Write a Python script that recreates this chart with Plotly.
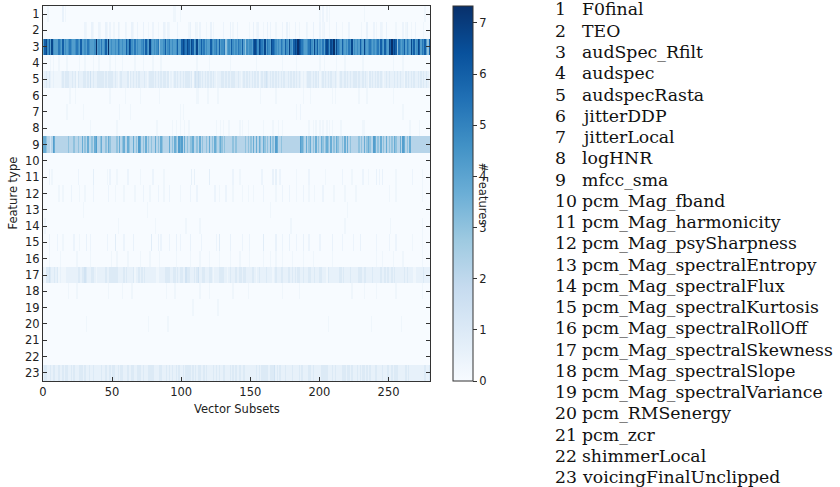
import plotly.graph_objects as go

# ---------------- data ----------------
N_COLS = 280
FEATURES = ["F0final", "TEO", "audSpec_Rfilt", "audspec", "audspecRasta", "jitterDDP",
            "jitterLocal", "logHNR", "mfcc_sma", "pcm_Mag_fband", "pcm_Mag_harmonicity",
            "pcm_Mag_psySharpness", "pcm_Mag_spectralEntropy", "pcm_Mag_spectralFlux",
            "pcm_Mag_spectralKurtosis", "pcm_Mag_spectralRollOff", "pcm_Mag_spectralSkewness",
            "pcm_Mag_spectralSlope", "pcm_Mag_spectralVariance", "pcm_RMSenergy", "pcm_zcr",
            "shimmerLocal", "voicingFinalUnclipped"]
X_TICKS = [0, 50, 100, 150, 200, 250]
CB_TICKS = [0, 1, 2, 3, 4, 5, 6, 7]
Z_MAX = 7.33

# codebook for dense rows (one character per vector subset)
LEVELS = {'0': 0.0, '1': 0.3, '2': 0.6, '3': 1.0, '4': 1.4, '5': 2.2, '6': 3.0,
          '7': 3.7, '8': 4.2, '9': 4.7, 'a': 5.3, 'b': 6.0, 'c': 6.7, 'd': 7.33}

ROW3 = "".join([
    "8bc9b8c988", "8a98b8989a", "9889a98b88", "98a98889d8", "98a89b8d89",
    "8898a98988", "b9cb98a898", "89a8b98c98", "989a6889b8", "9a89889b88",
    "bcbacb9cb8", "9c89b9a898", "8b989a8b89", "9a6898b989", "8a98b86989",
    "98bcb9cba9", "c8a98cba98", "98a98b98c9", "8bcbdcba98", "89ab98c9b8",
    "98a8bcb9cb", "d9ca98b989", "8a9c89898b", "98c989a989", "89a8b98b98",
    "cbdbcb6a98", "9b8a98c9b8", "9cb8a9b86b"])
ROW5 = "".join([
    "1232321211", "1112323332", "2323132223", "3232423223", "3333232333",
    "3232123222", "2313232323", "2223212333", "2323232332", "3121232323",
    "2323332313", "4343232323", "2323212223", "3232323332", "2321232323",
    "2323231232", "3432323232", "3232322323", "2323232121", "2333232323",
    "1232323232", "2321232232", "3232333232", "2323213232", "3232321232",
    "3222323232", "2132323232", "2323232321"])
ROW9 = "".join([
    "7765545875", "5555555565", "5565565575", "6575565785", "5675565765",
    "5556575675", "5765575658", "7565756565", "5756576555", "5756576587",
    "8575656675", "5657565565", "7565765676", "5655555656", "5555556565",
    "6575757657", "6565756587", "5565555555", "5555558765", "7567565756",
    "5765676575", "6576556575", "7565555565", "6575676558", "7565756575",
    "6565765575", "8756575555", "5555555555"])
ROW17 = "".join([
    "2133432232", "3121111222", "2222233233", "4322233212", "2222232233",
    "3333222232", "3222231223", "2323222222", "2211222233", "3322332323",
    "3224332223", "2342233222", "3321222333", "3221232223", "2233233222",
    "2332123222", "2322221232", "2233222332", "3232332232", "2233223222",
    "3322213222", "2222332322", "2232222233", "3233222232", "2222322323",
    "2232322222", "2323222211", "2222232222"])
ROW23 = "".join([
    "2332232332", "2322323322", "3232223332", "3223223222", "2232232232",
    "3322323322", "2322332233", "3232223333", "2222332223", "2323223232",
    "2323333232", "3233223232", "2223232322", "3322232323", "2232232222",
    "2222323233", "3332333423", "2322232222", "3222232322", "2233232222",
    "2333332223", "2322223332", "3323222323", "2332323222", "3322232223",
    "2232333222", "2232322222", "2222223223"])
DENSE = {3: ROW3, 5: ROW5, 9: ROW9, 17: ROW17, 23: ROW23}

# sparse rows: (vector subset, #features)
SPARSE = {
    1: [(3, .3), (14, .5), (16, .3), (94, .3), (95, .3), (99, .3), (200, .3), (202, .4),
        (205, .3), (207, .3), (232, .3), (276, .3)],
    2: [(30, .4), (31, .3), (35, .5), (36, .3), (40, .4), (41, .3), (45, .5), (46, .3),
        (48, .4), (51, .3), (54, .5), (55, .3), (59, .4), (60, .3), (64, .5), (65, .3),
        (68, .4), (72, .5), (76, .3), (79, .4), (83, .3), (87, .5), (88, .3), (90, .4),
        (91, .3), (97, .4), (105, .3), (106, .5), (110, .4), (111, .3), (113, .4),
        (118, .3), (121, .5), (123, .3), (130, .4), (135, .5), (137, .3), (140, .4),
        (149, .3), (152, .5), (154, .3), (155, .4), (159, .3), (162, .5), (164, .4),
        (168, .3), (173, .4), (176, .5), (178, .3), (182, .4), (185, .3), (190, .4),
        (191, .3), (195, .5), (200, .4), (202, .3), (203, .4), (207, .3), (212, .5),
        (216, .3), (221, .4), (230, .3), (234, .5), (239, .4), (241, .3), (244, .4),
        (245, .3), (248, .5), (255, .3), (260, .4), (262, .3), (263, .5), (266, .3),
        (269, .4), (275, .3)],
    4: [(5, .3), (7, .3), (11, .3), (17, .3), (26, .3), (30, .3), (36, .3), (40, .3),
        (48, .3), (52, .3), (57, .3), (66, .3), (72, .3), (79, .3), (85, .3), (111, .3),
        (120, .3), (135, .3), (154, .3), (173, .3), (183, .3), (200, .3), (203, .3),
        (212, .3), (218, .3), (231, .3), (253, .3), (260, .3)],
    6: [(19, .3), (23, .3), (48, .3), (59, .3), (70, .3), (84, .3), (111, .3), (112, .3),
        (119, .3), (126, .3), (157, .3), (168, .3), (188, .3), (193, .3), (209, .3),
        (211, .3), (228, .3), (234, .3), (253, .3)],
    7: [(17, .3), (29, .3), (55, .3), (63, .3), (99, .3), (101, .3), (183, .3), (186, .4),
        (260, .3)],
    8: [(34, .3), (53, .3), (82, .3), (93, .3), (96, .3), (99, .3), (102, .3), (105, .3),
        (125, .3), (128, .3), (130, .3), (134, .3), (142, .3), (144, .3), (148, .3),
        (159, .3), (166, .3), (170, .3), (173, .3), (192, .3), (195, .3), (197, .3),
        (200, .3), (202, .3), (205, .3), (207, .3), (209, .3), (215, .3), (231, .3),
        (232, .3), (265, .3), (272, .3)],
    10: [],
    11: [(4, .4), (6, .3), (25, .4), (36, .7), (46, .3), (48, .4), (53, .3), (61, .4),
         (70, .3), (79, .4), (87, .3), (107, .6), (109, .6), (120, .7), (137, .4),
         (142, .3), (158, .4), (166, .5), (168, .6), (171, .4), (183, .3), (192, .4),
         (204, .3), (216, .4), (223, .3), (231, .4), (235, .3), (241, .5), (243, .4),
         (245, .5), (255, .3), (267, .4), (274, .3)],
    12: [(11, .3), (14, .3), (20, .4), (26, .3), (30, .3), (36, .4), (47, .4), (52, .3),
         (58, .3), (66, .3), (72, .4), (77, .3), (83, .4), (87, .3), (91, .4), (99, .3),
         (106, .4), (111, .4), (124, .4), (127, .3), (132, .4), (137, .3), (144, .3),
         (148, .3), (152, .3), (159, .4), (168, .3), (173, .4), (178, .4), (183, .3),
         (188, .4), (192, .3), (196, .3), (202, .4), (210, .3), (218, .3), (226, .3),
         (250, .3), (255, .3), (274, .3)],
    13: [(29, .3), (75, .3), (164, .3), (220, .3)],
    14: [(1, .3), (54, .3), (81, .3), (103, .3), (113, .3), (179, .3), (218, .3),
         (251, .3), (274, .3)],
    15: [(4, .4), (10, .4), (14, .3), (22, .4), (26, .3), (31, .5), (34, .4), (46, .4),
         (52, .8), (58, .4), (65, .5), (78, .8), (83, .5), (85, .4), (91, .4), (96, .5),
         (99, .4), (106, .5), (114, .4), (125, .4), (127, .8), (135, .5), (144, .4),
         (149, .4), (159, .8), (168, .5), (173, .4), (178, .5), (183, .4), (188, .5),
         (192, .4), (200, .4), (209, .5), (216, .4), (224, .4), (229, .5), (241, .4),
         (250, .4), (255, .4), (267, .3), (274, .3)],
    16: [(4, .3), (12, .3), (24, .3), (34, .3), (49, .3), (53, .3), (61, .3), (70, .3),
         (77, .3), (84, .3), (96, .3), (106, .3), (113, .3), (120, .3), (127, .3),
         (135, .3), (142, .3), (149, .3), (159, .3), (164, .3), (168, .3), (173, .3),
         (180, .3), (188, .3), (195, .3), (209, .3), (241, .3), (245, .3), (253, .3),
         (260, .3), (274, .3)],
    18: [(18, .3), (24, .3), (47, .3), (57, .3), (64, .3), (89, .3), (95, .3), (113, .3),
         (120, .3), (137, .3), (148, .3), (173, .3), (185, .3), (223, .3), (232, .3),
         (241, .3), (255, .3), (274, .3)],
    19: [(108, .3), (126, .3)],
    20: [(31, .3), (76, .3), (90, .3), (206, .3), (237, .3), (259, .3)],
    21: [],
    22: [],
}

# ---------------- build matrix ----------------
Z = []
for r in range(1, 24):
    row = [0.0] * N_COLS
    if r in DENSE:
        s = DENSE[r]
        assert len(s) == N_COLS, (r, len(s))
        row = [LEVELS[c] for c in s]
    else:
        for c, v in SPARSE.get(r, []):
            row[c] = v
    Z.append(row)

BLUES = [[0.0, "#f7fbff"], [0.125, "#deebf7"], [0.25, "#c6dbef"], [0.375, "#9ecae1"],
         [0.5, "#6baed6"], [0.625, "#4292c6"], [0.75, "#2171b5"], [0.875, "#08519c"],
         [1.0, "#08306b"]]

# ---------------- layout geometry (pixels) ----------------
W, H = 840, 487
L, R, T, B = 43, 430, 6, 381
PW, PH = R - L, B - T


def px(x):
    return (x - L) / PW


def py(y):
    return 1 - (y - T) / PH


AX_FONT = dict(family="DejaVu Sans", size=11.5, color="#222")
LINE = "#333"

fig = go.Figure(go.Heatmap(
    z=Z, x0=0.5, dx=1, y=list(range(1, 24)),
    zmin=0, zmax=Z_MAX, colorscale=BLUES, hoverinfo="skip",
    colorbar=dict(
        x=px(453), xanchor="left", xpad=0, ypad=0, y=0.5, yanchor="middle",
        len=1, lenmode="fraction", thickness=20, thicknessmode="pixels",
        outlinewidth=1, outlinecolor=LINE,
        tickmode="array", tickvals=CB_TICKS, ticks="outside", ticklen=4,
        tickcolor=LINE, tickfont=AX_FONT),
))

fig.update_xaxes(range=[0, N_COLS], tickvals=X_TICKS, ticks="inside", ticklen=4,
                 tickcolor=LINE, mirror="ticks", showline=True, linecolor=LINE,
                 linewidth=1, showgrid=False, zeroline=False, tickfont=AX_FONT)
fig.update_yaxes(range=[23.5, 0.5], tickvals=list(range(1, 24)), ticks="inside",
                 ticklen=4, tickcolor=LINE, mirror="ticks", showline=True,
                 linecolor=LINE, linewidth=1, showgrid=False, zeroline=False,
                 tickfont=AX_FONT)

ann = []
ann.append(dict(text="Vector Subsets", x=px(236.5), y=py(409), xref="paper", yref="paper",
                showarrow=False, font=AX_FONT, xanchor="center", yanchor="middle"))
ann.append(dict(text="Feature type", x=px(12), y=py(193.5), xref="paper", yref="paper",
                showarrow=False, font=AX_FONT, textangle=-90, xanchor="center",
                yanchor="middle"))
ann.append(dict(text="# Features", x=px(483), y=py(193.5), xref="paper", yref="paper",
                showarrow=False, font=AX_FONT, textangle=90, xanchor="center",
                yanchor="middle"))

LEG_FONT = dict(family="DejaVu Serif", size=17.3, color="#111")
for i, name in enumerate(FEATURES):
    yy = py(9.5 + i * 21.25)
    ann.append(dict(text=str(i + 1), x=px(553), y=yy, xref="paper", yref="paper",
                    showarrow=False, font=LEG_FONT, xanchor="left", yanchor="middle"))
    ann.append(dict(text=name, x=px(580), y=yy, xref="paper", yref="paper",
                    showarrow=False, font=LEG_FONT, xanchor="left", yanchor="middle"))

fig.update_layout(width=W, height=H, margin=dict(l=L, r=W - R, t=T, b=H - B),
                  paper_bgcolor="white", plot_bgcolor="white", annotations=ann,
                  showlegend=False)
fig.write_html("out.html", config={"displayModeBar": False},
               post_script="document.body.style.margin='0';document.body.style.padding='0';")
